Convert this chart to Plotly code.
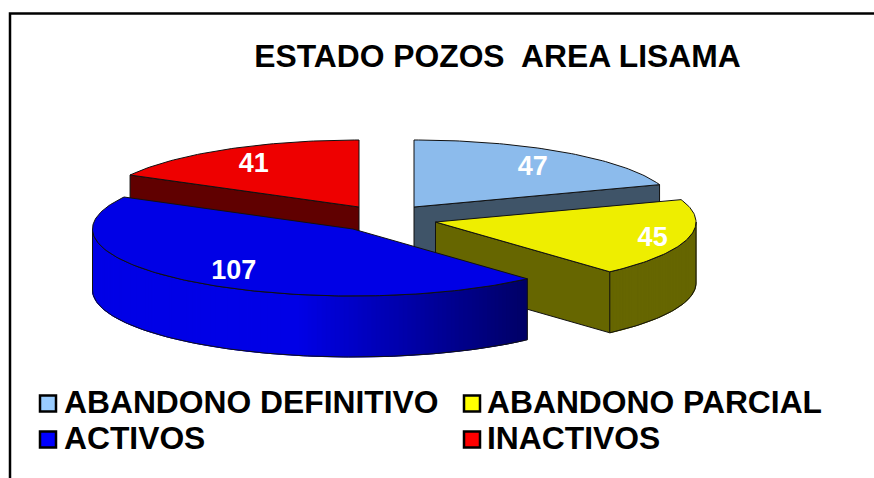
import math
import plotly.graph_objects as go

TITLE = "ESTADO POZOS  AREA LISAMA"
categories = ["ABANDONO DEFINITIVO", "ABANDONO PARCIAL", "ACTIVOS", "INACTIVOS"]
values = [47, 45, 107, 41]

# styling / layout, separate from the data
top_colors = ["#8CBBEC", "#EEEE00", "#0000E6", "#EE0000"]
swatch_colors = ["#99CCFF", "#FFFF00", "#0000FF", "#FF0000"]
cut_colors = ["#3F5468", "#666600", "#000066", "#600000"]
wall_from = ["#3F5468", "#666600", "#0000E6", "#600000"]
wall_to = ["#3F5468", "#666600", "#000066", "#600000"]
apex_x = [414, 435.5, 353, 359]
apex_y = [207, 222, 229, 207]
label_r = [0.79, 0.86, 0.74, 0.79]
label_dy = [4, 3, 4, 4]
legend_x = [48, 472, 48, 472]
legend_y = [403.5, 403.5, 439.5, 439.5]
legend_text_x = [64, 487, 64, 487]
legend_text_y = [405.5, 405.5, 441.5, 441.5]
RX, RY, DEPTH = 260.5, 67, 61
draw_order = [0, 3, 1, 2]

W, H = 874, 478
total = sum(values)
bounds = [0]
for v in values:
    bounds.append(bounds[-1] + v / total * 360)


def pt(i, ang, dy=0, r=1.0):
    a = math.radians(ang)
    return apex_x[i] + r * RX * math.sin(a), apex_y[i] - r * RY * math.cos(a) + dy


def hexmix(c1, c2, t):
    a = [int(c1[k:k + 2], 16) for k in (1, 3, 5)]
    b = [int(c2[k:k + 2], 16) for k in (1, 3, 5)]
    return "#%02X%02X%02X" % tuple(round(p + (q - p) * t) for p, q in zip(a, b))


fig = go.Figure()


def poly(points, fill, line=None, width=1.0):
    xs = [p[0] for p in points] + [points[0][0]]
    ys = [p[1] for p in points] + [points[0][1]]
    fig.add_trace(go.Scatter(x=xs, y=ys, mode="lines", fill="toself", fillcolor=fill,
                             line=dict(color=line or fill, width=width),
                             hoverinfo="skip", showlegend=False))


def angles(a, b, step=1.0):
    n = max(2, int(abs(b - a) / step) + 1)
    return [a + (b - a) * k / (n - 1) for k in range(n)]


for i in draw_order:
    a, b = bounds[i], bounds[i + 1]
    # cut faces
    for ang, vis in ((a, math.sin(math.radians(a)) < -1e-6), (b, math.sin(math.radians(b)) > 1e-6)):
        if vis:
            c = pt(i, ang)
            poly([(apex_x[i], apex_y[i]), c, (c[0], c[1] + DEPTH), (apex_x[i], apex_y[i] + DEPTH)],
                 cut_colors[i], "#111111", 1)
    # outer wall
    lo, hi = max(a, 90), min(b, 270)
    if lo < hi:
        ang_list = angles(lo, hi, 1.0)
        xmin, xmax = 300, pt(i, lo)[0]
        # painted from the far edge inward; each strip overlaps the next to avoid seams
        for k in range(len(ang_list) - 1):
            p = pt(i, ang_list[k])
            q = pt(i, min(hi, ang_list[k] + 3))
            t = min(1, max(0, (p[0] - xmin) / max(1, xmax - xmin)))
            col = hexmix(wall_from[i], wall_to[i], t)
            poly([p, q, (q[0], q[1] + DEPTH), (p[0], p[1] + DEPTH)], col, col, 0.5)
        top = [pt(i, x) for x in ang_list]
        bot = [pt(i, x, DEPTH) for x in reversed(ang_list)]
        xs = [p[0] for p in top + bot] + [top[0][0]]
        ys = [p[1] for p in top + bot] + [top[0][1]]
        fig.add_trace(go.Scatter(x=xs, y=ys, mode="lines", line=dict(color="#111111", width=1),
                                 hoverinfo="skip", showlegend=False))
    # top face
    poly([(apex_x[i], apex_y[i])] + [pt(i, x) for x in angles(a, b, 1.0)],
         top_colors[i], "#111111", 1)

# value labels
for i, v in enumerate(values):
    x, y = pt(i, (bounds[i] + bounds[i + 1]) / 2, label_dy[i], label_r[i])
    fig.add_trace(go.Scatter(x=[x], y=[y], mode="text", text=[f"<b>{v}</b>"], textposition="middle center",
                             textfont=dict(family="Liberation Sans", size=27, color="white"),
                             hoverinfo="skip", showlegend=False))

# legend
for i, name in enumerate(categories):
    fig.add_trace(go.Scatter(x=[legend_x[i]], y=[legend_y[i]], mode="markers",
                             marker=dict(symbol="square", size=16, color=swatch_colors[i],
                                         line=dict(color="black", width=2.5)),
                             hoverinfo="skip", showlegend=False))
    fig.add_trace(go.Scatter(x=[legend_text_x[i]], y=[legend_text_y[i]], mode="text", text=[f"<b>{name}</b>"],
                             textposition="middle right",
                             textfont=dict(family="Liberation Sans", size=31.8, color="black"),
                             hoverinfo="skip", showlegend=False))

fig.update_layout(
    width=W, height=H, margin=dict(l=0, r=0, t=0, b=0),
    paper_bgcolor="white", plot_bgcolor="white",
    title=dict(text=f"<b>{TITLE}</b>", x=497.5 / W, xanchor="center", y=1 - 55.5 / H, yanchor="middle",
               font=dict(family="Liberation Sans", size=31.8, color="black")),
    xaxis=dict(range=[0, W], visible=False, fixedrange=True),
    yaxis=dict(range=[H, 0], visible=False, fixedrange=True),
    shapes=[dict(type="rect", xref="x", yref="y", x0=10, y0=13.5, x1=W + 10, y1=H + 10,
                 line=dict(color="black", width=2.5), fillcolor="rgba(0,0,0,0)")],
    showlegend=False,
)
fig.write_html("out.html", config={"displayModeBar": False},
               post_script="document.body.style.margin='0';document.body.style.overflow='hidden';")
